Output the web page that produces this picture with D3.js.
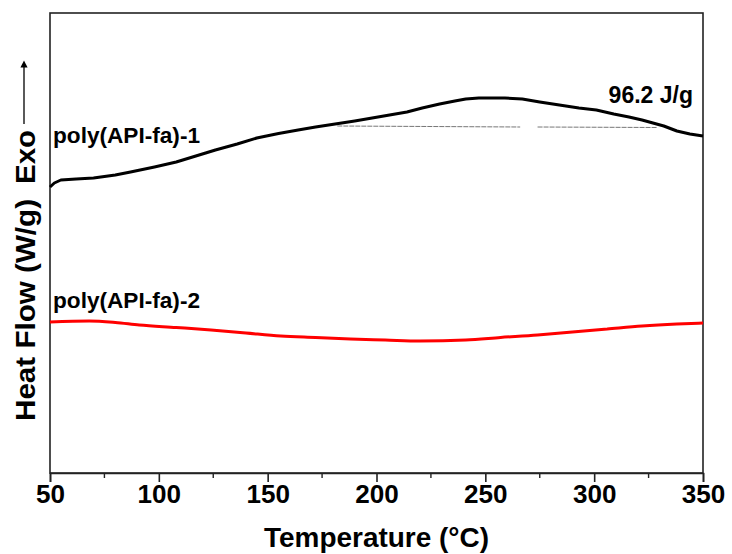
<!DOCTYPE html>
<html>
<head>
<meta charset="utf-8">
<script src="https://cdn.jsdelivr.net/npm/d3@7/dist/d3.min.js"></script>
<style>
  body { margin: 0; background: #fff; }
  text { font-family: "Liberation Sans", Arial, sans-serif; font-weight: bold; fill: #000; }
</style>
</head>
<body>
<div id="chart"></div>
<script>
// DSC curves, temperature in C, heat flow in arbitrary offset units
var tempTicks = [50, 100, 150, 200, 250, 300, 350];
var minorTicks = [75, 125, 175, 225, 275, 325];

var temp1 = [50, 52, 55, 62, 70, 80, 87, 98, 108, 117, 126, 136, 145, 155, 164, 172, 181, 190, 198, 206, 214, 221, 229, 236, 241, 247, 252, 259, 267, 275, 284, 293, 301, 309, 316, 322, 327, 332, 338, 344, 350];
var flow1 = [28.6, 29.0, 29.3, 29.4, 29.5, 29.8, 30.1, 30.6, 31.1, 31.7, 32.3, 32.9, 33.5, 33.95, 34.3, 34.6, 34.9, 35.2, 35.5, 35.8, 36.1, 36.5, 36.9, 37.2, 37.4, 37.5, 37.5, 37.5, 37.4, 37.1, 36.8, 36.5, 36.3, 35.9, 35.6, 35.3, 35.0, 34.7, 34.2, 33.9, 33.7];

var temp2 = [50, 68, 80, 91, 108, 124, 140, 156, 172, 188, 204, 220, 241, 257, 274, 290, 306, 322, 338, 350];
var flow2 = [15.1, 15.2, 15.05, 14.8, 14.55, 14.3, 14.0, 13.7, 13.55, 13.4, 13.3, 13.2, 13.3, 13.55, 13.8, 14.1, 14.4, 14.7, 14.9, 15.0];

// peak integration baseline pieces (temp start, temp end, flow)
var baseT0 = [182, 274];
var baseT1 = [266, 329];
var baseFlow = [34.7, 34.55];

var labels = ["poly(API-fa)-1", "poly(API-fa)-2"];
var enthalpy = "96.2 J/g";

var W = 732, H = 554;
var margin = {top: 13, right: 29, bottom: 81, left: 50};

var svg = d3.select("#chart").append("svg")
    .attr("width", W)
    .attr("height", H);

var x = d3.scaleLinear().domain([50, 350]).range([margin.left, W - margin.right]);
var y = d3.scaleLinear().domain([0, 46]).range([H - margin.bottom, margin.top]);

var line = d3.line()
    .x(function(d){ return x(d[0]); })
    .y(function(d){ return y(d[1]); });

// frame
svg.append("rect")
    .attr("x", x(50)).attr("y", y(46))
    .attr("width", x(350) - x(50)).attr("height", y(0) - y(46))
    .attr("fill", "none").attr("stroke", "#222").attr("stroke-width", 1.6);

// bottom axis
var xAxis = d3.axisBottom(x).tickValues(tempTicks).tickSize(9).tickPadding(3);
var gx = svg.append("g").attr("transform", "translate(0," + y(0) + ")").call(xAxis);
gx.select(".domain").attr("stroke", "#222").attr("stroke-width", 1.6);
gx.selectAll(".tick line").attr("stroke", "#222").attr("stroke-width", 1.6);
gx.selectAll(".tick text")
    .style("font-family", "'Liberation Sans', Arial, sans-serif")
    .style("font-weight", "bold")
    .style("font-size", "26px")
    .attr("fill", "#000")
    .attr("textLength", function(d){ return String(d).length * 14.5; })
    .attr("lengthAdjust", "spacingAndGlyphs");

svg.append("g").selectAll("line")
    .data(minorTicks).enter().append("line")
    .attr("x1", function(d){ return x(d); }).attr("x2", function(d){ return x(d); })
    .attr("y1", y(0)).attr("y2", y(0) + 5)
    .attr("stroke", "#222").attr("stroke-width", 1.4);

svg.append("text")
    .attr("x", (x(50) + x(350)) / 2).attr("y", 547)
    .attr("text-anchor", "middle")
    .style("font-size", "27px")
    .attr("textLength", 225).attr("lengthAdjust", "spacingAndGlyphs")
    .text("Temperature (\u00B0C)");

// y title and Exo arrow
svg.append("text")
    .attr("transform", "translate(35,310) rotate(-90)")
    .attr("text-anchor", "middle")
    .style("font-size", "28px")
    .attr("textLength", 222).attr("lengthAdjust", "spacingAndGlyphs")
    .text("Heat Flow (W/g)");

svg.append("text")
    .attr("transform", "translate(35,157) rotate(-90)")
    .attr("text-anchor", "middle")
    .style("font-size", "28px")
    .attr("textLength", 54).attr("lengthAdjust", "spacingAndGlyphs")
    .text("Exo");

svg.append("defs").append("marker")
    .attr("id", "arr").attr("viewBox", "0 0 10 10")
    .attr("refX", 5).attr("refY", 5)
    .attr("markerWidth", 5.5).attr("markerHeight", 7)
    .attr("orient", "auto")
    .append("path").attr("d", "M0,0 L10,5 L0,10 z").attr("fill", "#000");

svg.append("line")
    .attr("x1", 24).attr("x2", 24)
    .attr("y1", 124).attr("y2", 64)
    .attr("stroke", "#000").attr("stroke-width", 1.3)
    .attr("marker-end", "url(#arr)");

// integration baseline
svg.append("g").selectAll("line")
    .data(baseT0).enter().append("line")
    .attr("x1", function(d){ return x(d); })
    .attr("x2", function(d, i){ return x(baseT1[i]); })
    .attr("y1", function(d, i){ return y(baseFlow[0] - i * 0.1); })
    .attr("y2", function(d, i){ return y(baseFlow[1] + (1 - i) * 0.05); })
    .attr("stroke", "#777").attr("stroke-width", 1)
    .attr("stroke-dasharray", "5,1");

// curves
svg.append("path")
    .datum(d3.zip(temp1, flow1))
    .attr("d", line)
    .attr("fill", "none").attr("stroke", "#000").attr("stroke-width", 3)
    .attr("stroke-linejoin", "round");

svg.append("path")
    .datum(d3.zip(temp2, flow2))
    .attr("d", d3.line().curve(d3.curveMonotoneX)
        .x(function(d){ return x(d[0]); })
        .y(function(d){ return y(d[1]); }))
    .attr("fill", "none").attr("stroke", "#ff0000").attr("stroke-width", 3);

// annotations
svg.append("text").attr("x", 53).attr("y", 143)
    .style("font-size", "22px")
    .attr("textLength", 147).attr("lengthAdjust", "spacingAndGlyphs")
    .text(labels[0]);
svg.append("text").attr("x", 53).attr("y", 308)
    .style("font-size", "22px")
    .attr("textLength", 147).attr("lengthAdjust", "spacingAndGlyphs")
    .text(labels[1]);
svg.append("text").attr("x", 693).attr("y", 103)
    .attr("text-anchor", "end")
    .style("font-size", "23px")
    .text(enthalpy);
</script>
</body>
</html>
